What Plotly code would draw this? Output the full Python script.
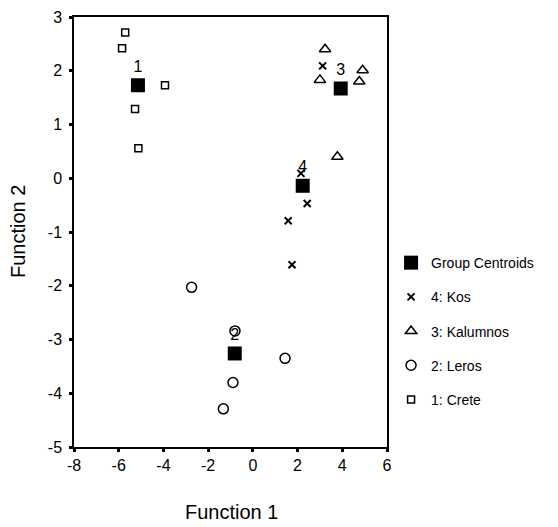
import plotly.graph_objects as go

crete_x = [-5.71, -5.85, -3.93, -5.27, -5.12]
crete_y = [2.71, 2.42, 1.73, 1.29, 0.56]
leros_x = [-2.74, -0.80, 1.44, -0.89, -1.32]
leros_y = [-2.03, -2.84, -3.35, -3.80, -4.29]
kal_x = [3.23, 3.00, 4.91, 4.76, 3.78]
kal_y = [2.40, 1.83, 2.01, 1.80, 0.40]
kos_x = [3.12, 2.15, 2.43, 1.58, 1.75]
kos_y = [2.09, 0.09, -0.47, -0.79, -1.61]
cent_x = [-5.14, -0.81, 3.93, 2.23]
cent_y = [1.73, -3.26, 1.67, -0.14]
cent_labels = ["1", "2", "3", "4"]

x_ticks = [-8, -6, -4, -2, 0, 2, 4, 6]
x_tick_text = ["-8", "-6", "-4", "-2", "0", "2", "4", "6"]
y_ticks = [-5, -4, -3, -2, -1, 0, 1, 2, 3]
y_tick_text = ["-5", "-4", "-3", "-2", "-1", "0", "1", "2", "3"]

FONT = "Liberation Sans, Arial, sans-serif"

fig = go.Figure()
fig.add_trace(go.Scatter(
    x=cent_x, y=cent_y, mode="markers+text", name="Group Centroids",
    text=cent_labels, textposition="top center",
    textfont=dict(size=16, color="black", family=FONT),
    marker=dict(symbol="square", size=14, color="black"),
    legendgroup="g0"))
fig.add_trace(go.Scatter(
    x=kos_x, y=kos_y, mode="markers", name="4: Kos",
    marker=dict(symbol="x-thin-open", size=7, color="black",
                line=dict(width=2, color="black")),
    legendgroup="g1"))
fig.add_trace(go.Scatter(
    x=kal_x, y=kal_y, mode="markers", name="3: Kalumnos",
    marker=dict(symbol="triangle-up-open", size=10, color="black",
                line=dict(width=1.5, color="black")),
    legendgroup="g2"))
fig.add_trace(go.Scatter(
    x=leros_x, y=leros_y, mode="markers", name="2: Leros",
    marker=dict(symbol="circle-open", size=10, color="black",
                line=dict(width=1.5, color="black")),
    legendgroup="g3"))
fig.add_trace(go.Scatter(
    x=crete_x, y=crete_y, mode="markers", name="1: Crete",
    marker=dict(symbol="square-open", size=7, color="black",
                line=dict(width=1.5, color="black")),
    legendgroup="g4"))

axis_common = dict(
    showgrid=False, zeroline=False, showline=True, linecolor="black",
    linewidth=1.5, mirror=True, ticks="outside", ticklen=3, tickwidth=3,
    tickcolor="black", tickfont=dict(size=16, color="black", family=FONT),
    automargin=False,
)
fig.update_xaxes(range=[-8, 6], tickvals=x_ticks, ticktext=x_tick_text, **axis_common)
fig.update_yaxes(range=[-5, 3], tickvals=y_ticks, ticktext=y_tick_text,
                 ticklabelstandoff=4, **axis_common)

fig.add_annotation(text="Function 1", xref="paper", yref="paper",
                   x=(231 - 74) / 313, y=-(512 - 447) / 430,
                   xanchor="center", yanchor="middle", showarrow=False,
                   font=dict(size=20, color="black", family=FONT))
fig.add_annotation(text="Function 2", xref="paper", yref="paper",
                   x=-(74 - 18) / 313, y=(447 - 232) / 430, textangle=-90,
                   xanchor="center", yanchor="middle", showarrow=False,
                   font=dict(size=20, color="black", family=FONT))

fig.update_layout(
    width=550, height=519,
    margin=dict(l=66, r=171, t=9, b=80),
    plot_bgcolor="white", paper_bgcolor="white",
    legend=dict(x=1.013, y=0.465, xanchor="left", yanchor="top",
                font=dict(size=14, color="black", family=FONT),
                tracegroupgap=13, traceorder="grouped",
                bgcolor="rgba(0,0,0,0)", itemwidth=30),
)

fig.write_html("out.html")
